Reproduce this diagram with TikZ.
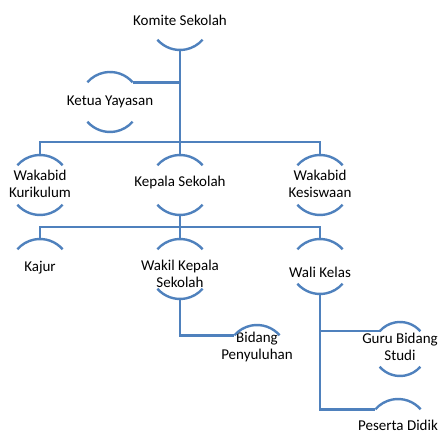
\documentclass[tikz,border=0pt]{standalone}
\usepackage{fontspec}
\setmainfont{Carlito}
\usetikzlibrary{calc}
\definecolor{orgblue}{RGB}{79,129,189}
\tikzset{
  x=1pt,y=1pt,
  lbl/.style={inner sep=0pt,align=center,font=\fontsize{15}{17}\selectfont,text=black},
  arcline/.style={draw=orgblue,line width=2.4pt},
  conn/.style={draw=orgblue,line width=2.4pt},
}
\newcommand\TopArc[3]{\draw[arcline] ($(#1.center)+(0,#2)+(41:#3)$) arc[start angle=41,end angle=139,radius=#3];}
\newcommand\BotArc[3]{\draw[arcline] ($(#1.center)+(0,#2)+(221:#3)$) arc[start angle=221,end angle=319,radius=#3];}
\begin{document}
\begin{tikzpicture}
\useasboundingbox (0,0) rectangle (443,435);
% nodes
\node[lbl] (komite) at (180,415) {Komite Sekolah};
\node[lbl] (ketua) at (110,333) {Ketua Yayasan};
\node[lbl] (kur) at (40,251) {Wakabid\\Kurikulum};
\node[lbl] (ks) at (180,252) {Kepala Sekolah};
\node[lbl] (kes) at (320,251) {Wakabid\\Kesiswaan};
\node[lbl] (kajur) at (40,167) {Kajur};
\node[lbl] (wkks) at (180,161) {Wakil Kepala\\Sekolah};
\node[lbl] (wali) at (320,163) {Wali Kelas};
\node[lbl] (bidang) at (257,88) {Bidang\\Penyuluhan};
\node[lbl] (guru) at (400,88) {Guru Bidang\\Studi};
\node[lbl] (peserta) at (398,10) {Peserta Didik};
% arcs
\BotArc{komite}{0}{30}
\TopArc{ketua}{0}{30}\BotArc{ketua}{0}{30}
\TopArc{kur}{-1}{30}\BotArc{kur}{-1}{30}
\TopArc{ks}{-2}{30}\BotArc{ks}{-2}{30}
\TopArc{kes}{-1}{30}\BotArc{kes}{-1}{30}
\TopArc{kajur}{-1}{30}
\TopArc{wkks}{5}{30}\BotArc{wkks}{5}{30}
\TopArc{wali}{3}{30}\BotArc{wali}{8}{30}
\TopArc{bidang}{-8}{30}
\TopArc{guru}{-2}{27}\BotArc{guru}{-2}{27}
\TopArc{peserta}{-4}{30}
% connector points
\coordinate (komiteB) at ($(komite.center)+(0,-30)$);
\coordinate (ketuaR) at ($(ketua.center)+(41:30)$);
\coordinate (kurT) at ($(kur.center)+(0,29)$);
\coordinate (ksT) at ($(ks.center)+(0,28)$);
\coordinate (ksB) at ($(ks.center)+(0,-32)$);
\coordinate (kesT) at ($(kes.center)+(0,29)$);
\coordinate (kajurT) at ($(kajur.center)+(0,29)$);
\coordinate (wkksT) at ($(wkks.center)+(0,35)$);
\coordinate (wkksB) at ($(wkks.center)+(0,-25)$);
\coordinate (waliT) at ($(wali.center)+(0,33)$);
\coordinate (waliB) at ($(wali.center)+(0,-22)$);
\coordinate (bidangL) at ($(bidang.center)+(0,-8)+(139:30)$);
\coordinate (guruL) at ($(guru.center)+(0,-2)+(139:27)$);
\coordinate (pesertaL) at ($(peserta.center)+(0,-4)+(139:30)$);
\coordinate (bus1) at (180,293);
\coordinate (bus2) at (180,208);
% connectors
\draw[conn] (komiteB) -- (bus1);
\draw[conn] (ketuaR) -- (ketuaR -| komiteB);
\draw[conn] (kurT) -- (kurT |- bus1) -- (kesT |- bus1) -- (kesT);
\draw[conn] (ksT) -- (bus1);
\draw[conn] (ksB) -- (bus2);
\draw[conn] (kajurT) -- (kajurT |- bus2) -- (waliT |- bus2) -- (waliT);
\draw[conn] (wkksT) -- (bus2);
\draw[conn] (wkksB) -- (wkksB |- bidangL) -- (bidangL);
\draw[conn] (waliB) -- (waliB |- pesertaL) -- (pesertaL);
\draw[conn] (waliB |- guruL) -- (guruL);
\end{tikzpicture}
\end{document}
